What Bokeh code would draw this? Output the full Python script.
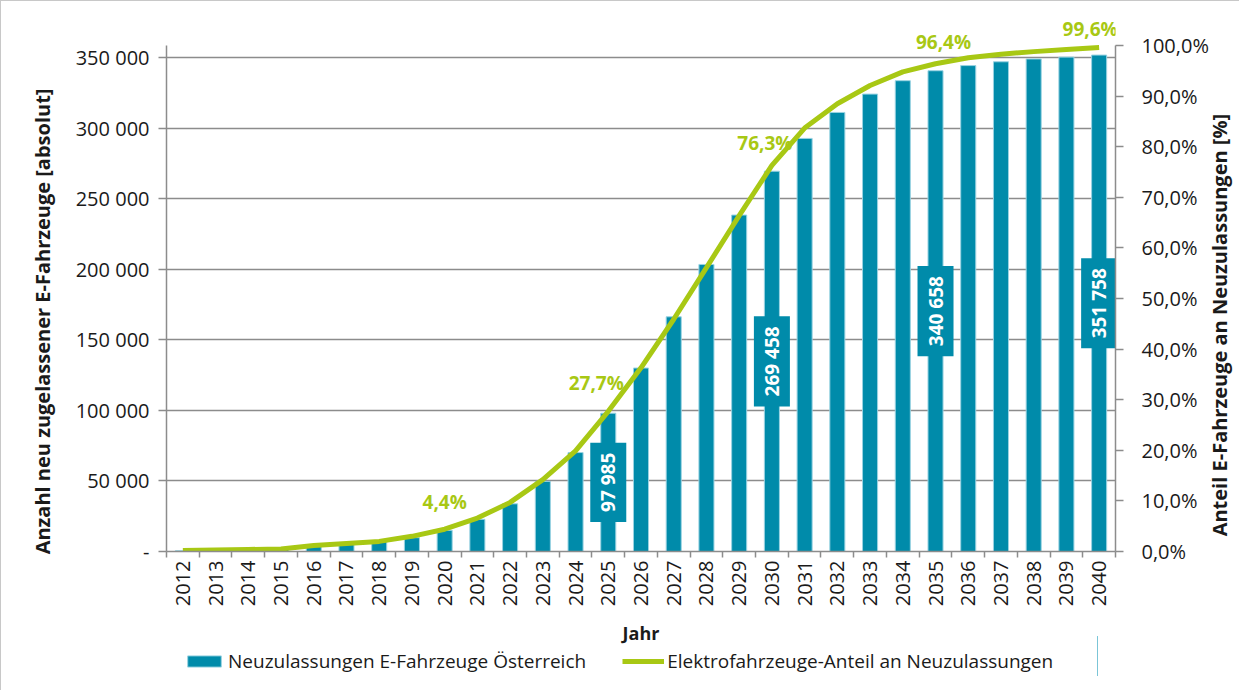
import math
from bokeh.plotting import figure
from bokeh.layouts import column
from bokeh.models import (ColumnDataSource, Range1d, LinearAxis, FixedTicker,
                          Legend, LegendItem, LabelSet)
from bokeh.core.properties import value
from bokeh.embed import file_html
from bokeh.resources import INLINE

# ---------------- data ----------------
years = list(range(2012, 2041))
registrations = [500, 900, 1300, 1700, 3500, 5000, 7000, 9800, 15000, 22800,
                 33800, 49700, 70100, 97985, 130000, 166300, 203400, 238400,
                 269458, 292700, 311100, 324100, 333600, 340658, 344300,
                 347000, 349000, 350300, 351758]
share_pct = [0.2, 0.3, 0.4, 0.5, 1.2, 1.6, 2.0, 3.0, 4.4, 6.6, 9.7, 14.2,
             19.9, 27.7, 36.3, 45.9, 56.1, 66.4, 76.3, 83.7, 88.5, 92.1,
             94.8, 96.4, 97.6, 98.3, 98.8, 99.2, 99.6]
bar_label_years = [2025, 2030, 2035, 2040]
line_label_years = [2020, 2025, 2030, 2035, 2040]
left_ticks = [0, 50000, 100000, 150000, 200000, 250000, 300000, 350000]
left_tick_labels = ["-", "50 000", "100 000", "150 000", "200 000",
                    "250 000", "300 000", "350 000"]
right_ticks = [0, 10, 20, 30, 40, 50, 60, 70, 80, 90, 100]
right_tick_labels = ["0,0%", "10,0%", "20,0%", "30,0%", "40,0%", "50,0%",
                     "60,0%", "70,0%", "80,0%", "90,0%", "100,0%"]
x_title = "Jahr"
left_title = "Anzahl neu zugelassener E-Fahrzeuge [absolut]"
right_title = "Anteil E-Fahrzeuge an Neuzulassungen [%]"
bar_name = "Neuzulassungen E-Fahrzeuge Österreich"
line_name = "Elektrofahrzeuge-Anteil an Neuzulassungen"

# ---------------- layout / styles ----------------
LEFT_AXIS_TOP = 358500      # value at top of the axis lines
RIGHT_AXIS_TOP = 100
HEADROOM = 532 / 505        # frame extends above the axes for the labels
LEFT_TITLE_ANCHOR = 163000  # where the left title is centred (left scale)
RIGHT_TITLE_ANCHOR = 3      # where the right title starts (right scale)
line_label_dx = [0, -12, -7, 8, -9]
line_label_dy = [27, 28, 22, 22, 19]

TEAL = "#008BAA"
EDGE = "#9AD3E2"
GREEN = "#A8C814"
GREY = "#8C8C8C"
TXT = "#1a1a1a"
FONT = "Open Sans"

src = ColumnDataSource(dict(year=years, reg=registrations, pct=share_pct))

bl_idx = [years.index(y) for y in bar_label_years]
bar_lab = ColumnDataSource(dict(
    year=[years[i] for i in bl_idx],
    mid=[registrations[i] / 2 for i in bl_idx],
    txt=[f"{registrations[i]:,}".replace(",", " ") for i in bl_idx],
))
ll_idx = [years.index(y) for y in line_label_years]
line_lab = ColumnDataSource(dict(
    year=[years[i] for i in ll_idx],
    pct=[share_pct[i] for i in ll_idx],
    txt=[f"{share_pct[i]:.1f}%".replace(".", ",") for i in ll_idx],
    dx=line_label_dx,
    dy=line_label_dy,
))

p = figure(frame_width=948, frame_height=532,
           x_range=Range1d(years[0] - 0.5, years[-1] + 0.5),
           y_range=Range1d(0, LEFT_AXIS_TOP * HEADROOM),
           output_backend="svg", toolbar_location=None,
           min_border_left=165, min_border_right=119,
           min_border_top=17, min_border_bottom=140)
p.styles = {"border-left": "1px solid #C8C8C8", "border-top": "1px solid #C8C8C8"}
p.outline_line_color = None
p.background_fill_color = "white"
p.border_fill_color = "white"

# grid
p.xgrid.visible = False
p.ygrid.ticker = FixedTicker(ticks=left_ticks)
p.ygrid.grid_line_color = GREY
p.ygrid.grid_line_width = 1.5


def style_ticks(ax, size="20px"):
    ax.major_label_text_font = FONT
    ax.major_label_text_font_size = size
    ax.major_label_text_color = TXT


def hide_lines(ax):
    ax.axis_line_color = None
    ax.major_tick_line_color = None
    ax.minor_tick_line_color = None
    ax.major_tick_out = 0
    ax.major_tick_in = 0
    ax.minor_tick_out = 0
    ax.minor_tick_in = 0


# x axis
xa = p.xaxis[0]
xa.ticker = FixedTicker(ticks=years,
                        minor_ticks=[y - 0.5 for y in years] + [years[-1] + 0.5])
xa.major_label_overrides = {y: str(y) for y in years}
xa.major_tick_line_color = None
xa.major_tick_out = 6
xa.major_tick_in = 0
xa.minor_tick_line_color = GREY
xa.minor_tick_line_width = 1.5
xa.minor_tick_out = 6
xa.minor_tick_in = 0
xa.axis_line_color = GREY
xa.axis_line_width = 1.5
xa.major_label_orientation = math.pi / 2
xa.major_label_standoff = 3
style_ticks(xa)
xa.axis_label = x_title
xa.axis_label_text_font = FONT
xa.axis_label_text_font_style = "bold"
xa.axis_label_text_font_size = "18px"
xa.axis_label_text_color = TXT
xa.axis_label_standoff = 12

# left axis
ya = p.yaxis[0]
ya.ticker = FixedTicker(ticks=left_ticks)
ya.bounds = (0, LEFT_AXIS_TOP)
ya.major_label_overrides = dict(zip(left_ticks, left_tick_labels))
ya.minor_tick_line_color = None
ya.major_tick_line_color = GREY
ya.major_tick_line_width = 1.5
ya.major_tick_out = 8
ya.major_tick_in = 0
ya.axis_line_color = GREY
ya.axis_line_width = 1.5
ya.major_label_standoff = 9
style_ticks(ya)

# left title (drawn as the single label of an invisible axis)
lt = LinearAxis(ticker=FixedTicker(ticks=[LEFT_TITLE_ANCHOR]))
lt.major_label_overrides = {LEFT_TITLE_ANCHOR: left_title}
lt.major_label_orientation = "parallel"
lt.major_label_standoff = 16
hide_lines(lt)
style_ticks(lt)
lt.major_label_text_font_style = "bold"
p.add_layout(lt, "left")

# right axis
p.extra_y_ranges = {"pct": Range1d(0, RIGHT_AXIS_TOP * HEADROOM)}
ra = LinearAxis(y_range_name="pct", ticker=FixedTicker(ticks=right_ticks),
                bounds=(0, RIGHT_AXIS_TOP))
ra.major_label_overrides = dict(zip(right_ticks, right_tick_labels))
ra.minor_tick_line_color = None
ra.major_tick_line_color = GREY
ra.major_tick_line_width = 1.5
ra.major_tick_out = 8
ra.major_tick_in = 0
ra.axis_line_color = GREY
ra.axis_line_width = 1.5
ra.major_label_standoff = 18
style_ticks(ra)
p.add_layout(ra, "right")

# right title, reading bottom-to-top (single label of an invisible axis)
rt = LinearAxis(y_range_name="pct", ticker=FixedTicker(ticks=[RIGHT_TITLE_ANCHOR]))
rt.major_label_overrides = {RIGHT_TITLE_ANCHOR: right_title}
rt.major_label_orientation = math.pi / 2
rt.major_label_standoff = 8
hide_lines(rt)
style_ticks(rt)
rt.major_label_text_font_style = "bold"
p.add_layout(rt, "right")

# glyphs
bars = p.vbar(x="year", top="reg", width=0.46, source=src,
              fill_color=TEAL, line_color=EDGE, line_width=1)
line = p.line(x="year", y="pct", y_range_name="pct", source=src,
              line_color=GREEN, line_width=5)

p.text(x="year", y="mid", text="txt", source=bar_lab, angle=math.pi / 2,
       text_align="center", text_baseline="middle", text_color="white",
       text_font=value(FONT), text_font_style="bold", text_font_size="19px",
       background_fill_color=TEAL,
       padding={"left": 10, "right": 10, "top": 5, "bottom": 5})

share_labels = LabelSet(x="year", y="pct", text="txt", source=line_lab,
                        y_range_name="pct", x_offset="dx", y_offset="dy",
                        text_align="center", text_baseline="middle",
                        text_color=GREEN, text_font=value(FONT),
                        text_font_style="bold", text_font_size="19px")
p.add_layout(share_labels)

# ---------------- legend strip ----------------
lf = figure(width=1231, height=40, x_range=Range1d(0, 1), y_range=Range1d(0, 1),
            x_axis_type=None, y_axis_type=None, toolbar_location=None,
            output_backend="svg", min_border=0)
lf.outline_line_color = None
lf.background_fill_alpha = 0
lf.border_fill_alpha = 0
lf.styles = {"margin-top": "-54px"}
# key renderers reuse the series data; it lies outside this strip's view
bar_key = lf.vbar(x="year", top="reg", width=0.46, source=src,
                  fill_color=TEAL, line_color=EDGE)
line_key = lf.line(x="year", y="pct", source=src, line_color=GREEN, line_width=5)
legend = Legend(items=[LegendItem(label=bar_name, renderers=[bar_key]),
                       LegendItem(label=line_name, renderers=[line_key])],
                orientation="horizontal", location=(18, 2),
                glyph_width=42, glyph_height=14, label_standoff=3, spacing=36,
                label_text_font=FONT, label_text_font_size="19px",
                label_text_color=TXT, border_line_color=None,
                background_fill_alpha=0, padding=5, margin=0)
lf.add_layout(legend, "center")

layout = column(p, lf, spacing=0)
open("out.html", "w").write(file_html(layout, INLINE))
